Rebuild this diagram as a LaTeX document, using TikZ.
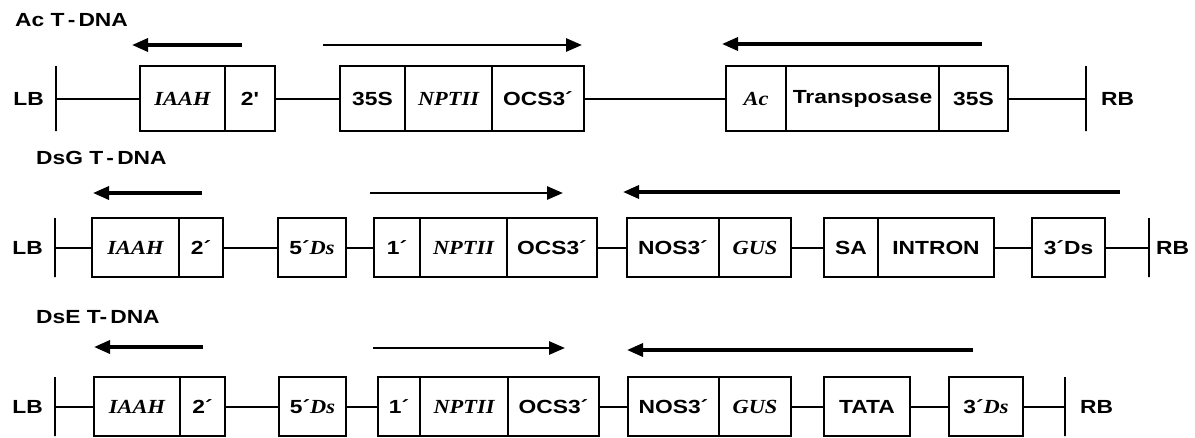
\documentclass[tikz,border=0pt]{standalone}
\usepackage{fontspec}
\usepackage{tikz}
\usetikzlibrary{arrows.meta,positioning}
\newfontfamily\labfont{Liberation Sans}[FakeStretch=1.2]
\newfontfamily\genefont{Liberation Serif}[FakeStretch=1.12]
\newcommand{\gene}[1]{{\genefont\bfseries\itshape\fontsize{20}{22}\selectfont #1}}

\begin{document}
\begin{tikzpicture}[x=1pt, y=-1pt, every node/.style={font=\labfont\bfseries\fontsize{19}{21}\selectfont},
  box/.style={draw, line width=2pt, inner sep=0pt, outer sep=0pt, minimum height=59pt},
  boxA/.style={box, minimum height=65pt},
  bar/.style={draw, line width=2.4pt, inner sep=0pt, outer sep=0pt, minimum width=0pt},
  tag/.style={inner sep=0pt},
  wire/.style={line width=2pt},
  lt/.style={line width=3.4pt, -{Triangle[length=16pt, width=13pt]}},
  rt/.style={line width=2.8pt, -{Triangle[length=16pt, width=13pt]}}]
\useasboundingbox (0,0) rectangle (1195,437);
% Ac T-DNA
\node[tag, anchor=west] (ttlA) at (15,20) {Ac T\,-\,DNA};
\node[bar, minimum height=65pt] (lbA) at (56,98.5) {};
\node[tag, left=12pt of lbA] (lbtA) {LB};
\node[boxA, minimum width=85pt, right=84pt of lbA] (iaahA) {\gene{IAAH}};
\node[boxA, minimum width=50pt, right=0pt of iaahA] (twoA) {2'};
\node[boxA, minimum width=65pt, right=65pt of twoA] (prA) {35S};
\node[boxA, minimum width=87pt, right=0pt of prA] (nptA) {\gene{NPTII}};
\node[boxA, minimum width=92pt, right=0pt of nptA] (ocsA) {OCS3´};
\node[boxA, minimum width=60pt, right=142pt of ocsA] (acA) {\gene{Ac}};
\node[boxA, minimum width=153pt, right=0pt of acA] (tpA) {Transposase};
\node[boxA, minimum width=69pt, right=0pt of tpA] (prbA) {35S};
\node[bar, minimum height=65pt, right=78pt of prbA] (rbA) {};
\node[tag, right=15pt of rbA] (rbtA) {RB};
\draw[wire] (lbA) -- (iaahA); \draw[wire] (twoA) -- (prA); \draw[wire] (ocsA) -- (acA); \draw[wire] (prbA) -- (rbA);
\coordinate (a1) at (242,45); \coordinate (a1e) at (132,45);
\coordinate (a2) at (323,45); \coordinate (a2e) at (582,45);
\coordinate (a3) at (982,44); \coordinate (a3e) at (722,44);
\draw[lt] (a1) -- (a1e); \draw[rt] (a2) -- (a2e); \draw[lt] (a3) -- (a3e);
% DsG T-DNA
\node[tag, anchor=west] (ttlB) at (36,158) {DsG T\,-\,DNA};
\node[bar, minimum height=59pt] (lbB) at (55,247.5) {};
\node[tag, left=12pt of lbB] (lbtB) {LB};
\node[box, minimum width=87pt, right=37pt of lbB] (iaahB) {\gene{IAAH}};
\node[box, minimum width=44pt, right=0pt of iaahB] (twoB) {2´};
\node[box, minimum width=68pt, right=55pt of twoB] (fiveB) {5´\gene{Ds}};
\node[box, minimum width=46pt, right=28pt of fiveB] (oneB) {1´};
\node[box, minimum width=87pt, right=0pt of oneB] (nptB) {\gene{NPTII}};
\node[box, minimum width=90pt, right=0pt of nptB] (ocsB) {OCS3´};
\node[box, minimum width=92pt, right=30pt of ocsB] (nosB) {NOS3´};
\node[box, minimum width=72pt, right=0pt of nosB] (gusB) {\gene{GUS}};
\node[box, minimum width=54pt, right=33pt of gusB] (saB) {SA};
\node[box, minimum width=116pt, right=0pt of saB] (intB) {INTRON};
\node[box, minimum width=73pt, right=38pt of intB] (threeB) {3´Ds};
\node[bar, minimum height=59pt, right=44pt of threeB] (rbB) {};
\node[tag, right=7pt of rbB] (rbtB) {RB};
\draw[wire] (lbB) -- (iaahB); \draw[wire] (twoB) -- (fiveB); \draw[wire] (fiveB) -- (oneB);
\draw[wire] (ocsB) -- (nosB); \draw[wire] (gusB) -- (saB); \draw[wire] (intB) -- (threeB); \draw[wire] (threeB) -- (rbB);
\coordinate (b1) at (202,193); \coordinate (b1e) at (93,193);
\coordinate (b2) at (370,193); \coordinate (b2e) at (563,193);
\coordinate (b3) at (1120,192); \coordinate (b3e) at (623,192);
\draw[lt] (b1) -- (b1e); \draw[rt] (b2) -- (b2e); \draw[lt] (b3) -- (b3e);
% DsE T-DNA
\node[tag, anchor=west] (ttlC) at (36,317) {DsE T-\,DNA};
\node[bar, minimum height=59pt] (lbC) at (55,406.5) {};
\node[tag, left=12pt of lbC] (lbtC) {LB};
\node[box, minimum width=86pt, right=39pt of lbC] (iaahC) {\gene{IAAH}};
\node[box, minimum width=45pt, right=0pt of iaahC] (twoC) {2´};
\node[box, minimum width=67pt, right=54pt of twoC] (fiveC) {5´\gene{Ds}};
\node[box, minimum width=42pt, right=32pt of fiveC] (oneC) {1´};
\node[box, minimum width=88pt, right=0pt of oneC] (nptC) {\gene{NPTII}};
\node[box, minimum width=91pt, right=0pt of nptC] (ocsC) {OCS3´};
\node[box, minimum width=91pt, right=29pt of ocsC] (nosC) {NOS3´};
\node[box, minimum width=72pt, right=0pt of nosC] (gusC) {\gene{GUS}};
\node[box, minimum width=86pt, right=33pt of gusC] (tataC) {TATA};
\node[box, minimum width=74pt, right=39pt of tataC] (threeC) {3´\gene{Ds}};
\node[bar, minimum height=59pt, right=42pt of threeC] (rbC) {};
\node[tag, right=15pt of rbC] (rbtC) {RB};
\draw[wire] (lbC) -- (iaahC); \draw[wire] (twoC) -- (fiveC); \draw[wire] (fiveC) -- (oneC);
\draw[wire] (ocsC) -- (nosC); \draw[wire] (gusC) -- (tataC); \draw[wire] (tataC) -- (threeC); \draw[wire] (threeC) -- (rbC);
\coordinate (c1) at (203,347); \coordinate (c1e) at (94,347);
\coordinate (c2) at (373,348); \coordinate (c2e) at (565,348);
\coordinate (c3) at (973,350); \coordinate (c3e) at (627,350);
\draw[lt] (c1) -- (c1e); \draw[rt] (c2) -- (c2e); \draw[lt] (c3) -- (c3e);
\end{tikzpicture}
\end{document}
